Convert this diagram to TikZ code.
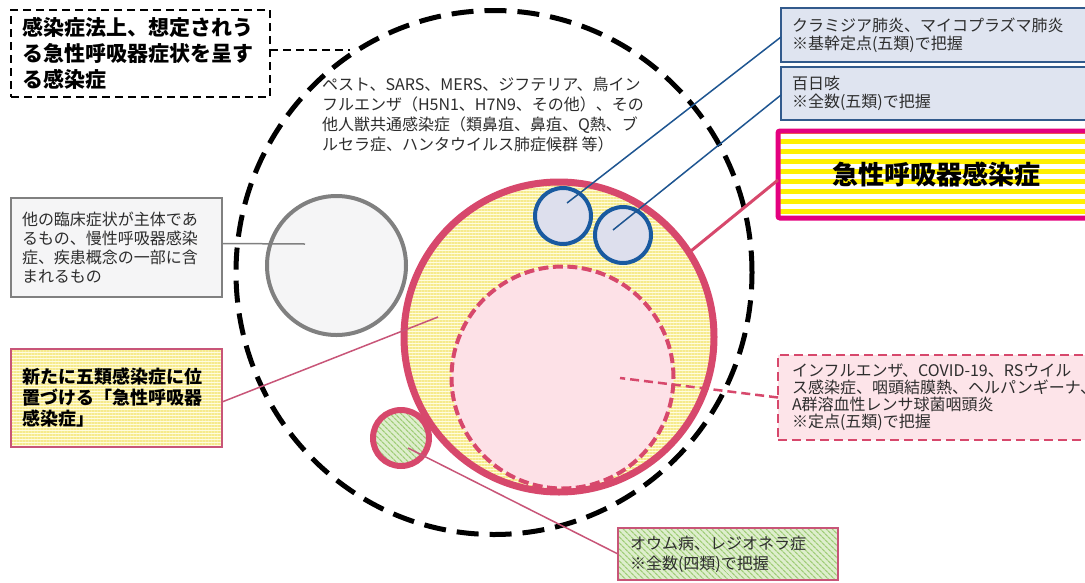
\documentclass[tikz,border=0pt]{standalone}
\usepackage{fontspec}
\setmainfont{Noto Sans CJK JP}
\usetikzlibrary{patterns.meta,shapes.geometric}
\definecolor{pk}{RGB}{215,72,108}
\definecolor{pkl}{RGB}{200,85,120}
\definecolor{mg}{RGB}{228,0,127}
\definecolor{blc}{RGB}{25,90,160}
\definecolor{bll}{RGB}{30,85,145}
\definecolor{bxb}{RGB}{50,90,140}
\definecolor{bxf}{RGB}{223,228,240}
\definecolor{lav}{RGB}{221,223,237}
\definecolor{pkf}{RGB}{253,225,231}
\definecolor{pkbox}{RGB}{253,228,233}
\definecolor{yl}{RGB}{246,234,140}
\definecolor{ylbg}{RGB}{255,252,222}
\definecolor{ybr}{RGB}{255,240,0}
\definecolor{grc}{RGB}{128,128,128}
\definecolor{grf}{RGB}{245,245,246}
\definecolor{gn}{RGB}{160,205,120}
\definecolor{gnbg}{RGB}{222,238,205}
\definecolor{txt}{RGB}{45,45,45}
\begin{document}
\begin{tikzpicture}[x=1pt,y=-1pt,
  every node/.style={inner sep=0pt, outer sep=0pt},
  ring/.style={circle, inner sep=0pt},
  fineyellow/.style={preaction={fill=ylbg}, pattern={Lines[angle=0,distance=3pt,line width=1.4pt]}, pattern color=yl},
  finegreen/.style={preaction={fill=gnbg}, pattern={Lines[angle=-45,distance=4pt,line width=1.3pt]}, pattern color=gn},
  boldyellow/.style={preaction={fill=white}, pattern={Lines[angle=0,distance=10pt,line width=5pt]}, pattern color=ybr},
  txt16/.style={text=txt, font=\fontsize{16pt}{19pt}\selectfont},
  leftbox/.style={anchor=north west, align=left, inner ysep=4pt},
  gline/.style={draw=grc, line width=1.5pt},
  bline/.style={draw=bll, line width=1.5pt},
  pline/.style={draw=pkl, line width=1.5pt},
]
\useasboundingbox (0,0) rectangle (1085,582);
\fill[white] (0,0) rectangle (1085,582);
\clip (0,0) rectangle (1085,582);

% circles
\node[ellipse, draw=black, line width=5pt, dash pattern=on 22pt off 11pt,
      minimum width=516pt, minimum height=524pt] (outer) at (494,272.5) {};
\node[ring, draw=grc, fill=grf, line width=4pt, minimum size=139pt] (grey) at (336.5,265.5) {};
\node[ring, draw=pk, fineyellow, line width=7pt, minimum size=310pt] (pc) at (559,337) {};
\node[ring, draw=pk, fill=pkf, line width=4pt, dash pattern=on 10pt off 4.5pt, minimum size=222pt] (ic) at (562.5,377.5) {};
\node[ring, draw=blc, fill=lav, line width=4pt, minimum size=56pt] (bc1) at (563,216) {};
\node[ring, draw=blc, fill=lav, line width=4pt, minimum size=56pt] (bc2) at (623,235) {};
\node[ring, draw=pk, finegreen, line width=6pt, minimum size=56pt] (gc) at (401,438) {};

% free ends of connectors
\coordinate (oc) at (350,50);
\coordinate (ge) at (305,244);
\coordinate (b1e) at (567,203);
\coordinate (b2e) at (613,230);
\coordinate (ye) at (438,317);
\coordinate (ie) at (620,378);
\coordinate (ce) at (408,448);

% boxes
\node[leftbox, draw=black, line width=2.2pt, dash pattern=on 8pt off 5pt,
      minimum height=87pt, inner xsep=12pt, text width=235pt,
      font=\bfseries\fontsize{21pt}{26pt}\selectfont] (tl) at (11,10)
      {感染症法上、想定されう\\る急性呼吸器症状を呈す\\る感染症};
\node[leftbox, txt16, draw=grc, fill=grf, line width=1.8pt,
      minimum height=99pt, inner xsep=11pt, text width=189pt] (gb) at (11,198)
      {他の臨床症状が主体であ\\るもの、慢性呼吸器感染\\症、疾患概念の一部に含\\まれるもの};
\node[leftbox, draw=pkl, line width=1.6pt, fineyellow,
      minimum height=98pt, inner xsep=11pt, text width=189pt,
      font=\bfseries\fontsize{18pt}{21pt}\selectfont] (yb) at (11,349)
      {新たに五類感染症に位\\置づける「急性呼吸器\\感染症」};
\node[leftbox, txt16, font=\fontsize{16pt}{18pt}\selectfont, draw=bxb, fill=bxf, line width=2pt,
      minimum height=54pt, inner xsep=11pt, text width=292pt] (bb1) at (781,8)
      {クラミジア肺炎、マイコプラズマ肺炎\\※基幹定点(五類)で把握};
\node[leftbox, txt16, font=\fontsize{16pt}{18pt}\selectfont, draw=bxb, fill=bxf, line width=2pt,
      minimum height=53pt, inner xsep=11pt, text width=292pt] (bb2) at (781,67)
      {百日咳\\※全数(五類)で把握};
\node[anchor=north west, align=center, draw=mg, line width=5pt, rounded corners=2pt, boldyellow,
      minimum height=87pt, inner xsep=13pt, text width=290pt,
      font=\bfseries\fontsize{26pt}{30pt}\selectfont] (big) at (778,131)
      {急性呼吸器感染症};
\node[leftbox, txt16, font=\fontsize{16pt}{17pt}\selectfont, draw=pk, fill=pkbox, line width=2.5pt,
      dash pattern=on 9pt off 5pt,
      minimum height=85pt, inner xsep=14pt, text width=292pt] (pb) at (778,355)
      {インフルエンザ、COVID-19、RSウイル\\ス感染症、咽頭結膜熱、ヘルパンギーナ、\\A群溶血性レンサ球菌咽頭炎\\※定点(五類)で把握};
\node[leftbox, txt16, font=\fontsize{16pt}{20pt}\selectfont, draw=pkl, line width=1.8pt, finegreen,
      minimum height=52pt, inner xsep=12pt, text width=196pt] (gnb) at (618,528)
      {オウム病、レジオネラ症\\※全数(四類)で把握};

\node[anchor=north west, align=left, txt16, font=\fontsize{16pt}{20pt}\selectfont] (pest) at (322,77)
  {ペスト、SARS、MERS、ジフテリア、鳥イン\\フルエンザ（H5N1、H7N9、その他）、その\\他人獣共通感染症（類鼻疽、鼻疽、Q熱、ブ\\ルセラ症、ハンタウイルス肺症候群 等）};

% connectors
\draw[draw=black, line width=2.2pt, dash pattern=on 8pt off 5pt] (tl.east |- oc) -- (oc);
\draw[gline] ([yshift=4pt]gb.east) -- (ge);
\draw[bline] ([yshift=-2pt]bb1.west) -- (b1e);
\draw[bline] ([yshift=-1.5pt]bb2.west) -- (b2e);
\draw[draw=pk, line width=3pt] ([yshift=-5.5pt]big.west) -- (pc.33);
\draw[pline] ([yshift=-4pt]yb.east) -- (ye);
\draw[draw=pk, line width=2.5pt, dash pattern=on 9pt off 5pt] (pb.west) -- (ie);
\draw[pline] (gnb.west) -- (ce);
\end{tikzpicture}
\end{document}
